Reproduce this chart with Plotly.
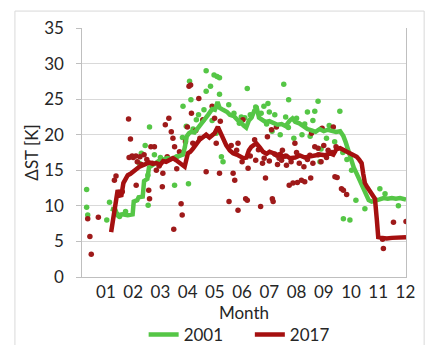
import plotly.graph_objects as go

# ---- data (x in month units, y = ΔST [K]) ----
month_ticks = [1, 2, 3, 4, 5, 6, 7, 8, 9, 10, 11, 12]
month_labels = ["01", "02", "03", "04", "05", "06", "07", "08", "09", "10", "11", "12"]

g_line_x = [1.18, 1.35, 1.42, 1.60, 1.80, 1.98, 2.02, 2.15, 2.20, 2.35, 2.40, 2.52, 2.58, 2.72, 2.85,
            2.97, 3.10, 3.25, 3.40, 3.58, 3.70, 3.83, 3.90, 3.97, 4.05, 4.13, 4.25, 4.40, 4.50, 4.65,
            4.75, 4.90, 5.00, 5.10, 5.17, 5.30, 5.45, 5.55, 5.70, 5.85, 5.95, 6.05, 6.15, 6.25, 6.35,
            6.45, 6.55, 6.62, 6.70, 6.85, 7.00, 7.15, 7.30, 7.45, 7.60, 7.75, 7.85, 7.95, 8.10, 8.25,
            8.40, 8.55, 8.70, 8.85, 9.00, 9.15, 9.30, 9.45, 9.60, 9.72, 9.80, 9.90, 10.00, 10.10, 10.20,
            10.33, 10.45, 10.57, 10.65, 10.76, 10.90, 11.05, 11.20, 11.35, 11.50, 11.65, 11.80, 12.02]
g_line_y = [9.6, 9.4, 8.7, 8.8, 8.7, 8.8, 10.6, 10.8, 11.2, 11.3, 13.5, 13.8, 15.4, 15.8, 16.2,
            16.4, 16.5, 16.7, 16.6, 16.9, 17.0, 17.2, 18.3, 19.8, 20.2, 20.4, 20.3, 21.0, 21.7, 22.3,
            22.8, 23.6, 23.5, 24.6, 23.8, 23.5, 23.2, 22.8, 22.6, 22.0, 21.8, 21.3, 21.0, 22.0, 22.4,
            23.4, 23.6, 22.4, 22.2, 21.8, 21.9, 21.6, 21.4, 21.5, 21.2, 22.0, 22.3, 21.8, 21.6, 21.2,
            20.8, 20.6, 20.4, 20.8, 20.5, 20.7, 20.6, 20.4, 20.5, 19.8, 19.0, 17.6, 16.2, 15.4, 14.6,
            13.5, 12.6, 11.4, 10.8, 10.6, 10.7, 10.9, 11.1, 11.0, 11.1, 11.0, 11.1, 10.9]

r_line_x = [1.19, 1.31, 1.43, 1.50, 1.56, 1.64, 1.72, 1.80, 1.90, 1.98, 2.10, 2.23, 2.35, 2.48, 2.60,
            2.72, 2.84, 3.00, 3.10, 3.21, 3.35, 3.46, 3.58, 3.70, 3.80, 3.89, 4.01, 4.10, 4.19, 4.30,
            4.44, 4.55, 4.68, 4.80, 4.99, 5.11, 5.24, 5.32, 5.42, 5.55, 5.67, 5.80, 5.91, 6.05, 6.16,
            6.25, 6.34, 6.45, 6.52, 6.65, 6.77, 6.90, 7.01, 7.15, 7.26, 7.40, 7.51, 7.65, 7.75, 7.95,
            8.12, 8.30, 8.49, 8.70, 8.86, 9.05, 9.22, 9.35, 9.47, 9.60, 9.71, 9.85, 9.96, 10.10, 10.21,
            10.30, 10.39, 10.45, 10.51, 10.60, 10.70, 10.80, 10.88, 10.95, 11.00, 11.15, 11.31, 11.50,
            11.68, 11.85, 12.02]
r_line_y = [6.3, 8.9, 12.2, 11.6, 11.3, 13.2, 13.8, 14.3, 14.5, 14.8, 15.1, 15.5, 15.7, 16.0, 16.1,
            15.9, 16.0, 15.8, 16.3, 16.2, 16.5, 16.7, 16.4, 16.0, 15.7, 15.5, 17.4, 17.6, 18.0, 18.6,
            19.3, 19.6, 20.0, 19.6, 20.2, 21.1, 20.0, 19.0, 18.5, 17.8, 17.4, 17.2, 17.0, 16.7, 16.8,
            17.8, 18.3, 18.6, 18.8, 18.2, 17.6, 17.3, 17.6, 17.4, 17.1, 17.3, 16.9, 17.0, 16.7, 16.8,
            17.1, 16.8, 16.9, 17.0, 17.2, 17.1, 17.4, 17.2, 18.0, 18.1, 17.8, 17.6, 17.4, 17.2, 16.9,
            16.5, 16.0, 14.5, 13.2, 12.6, 12.0, 11.6, 11.0, 8.0, 5.6, 5.5, 5.4, 5.5, 5.5, 5.6, 5.6]

g_pts_x = [0.29, 0.29, 0.33, 1.13, 1.03, 1.31, 1.72, 2.54, 2.60, 2.44, 2.55, 2.78, 3.19, 3.52, 3.81,
           3.83, 4.07, 4.03, 4.12, 4.32, 4.68, 4.84, 4.97, 5.08, 5.17, 4.68, 4.60, 5.17, 5.24, 5.30,
           5.51, 5.97, 6.19, 6.95, 7.53, 7.71, 8.79, 8.67, 8.86, 9.59, 10.02, 9.72, 9.96, 10.18, 10.51,
           11.06, 11.25, 11.74, 2.22, 1.50, 2.30, 3.00, 3.60, 4.20, 4.40, 4.55, 4.90, 5.05, 5.70, 6.30,
           6.50, 6.70, 6.80, 6.90, 7.00, 7.10, 7.20, 7.40, 7.60, 7.70, 7.90, 8.00, 8.20, 8.30, 8.40,
           8.50, 8.60, 8.90, 9.10, 9.20, 9.40, 9.70, 9.85, 3.95, 5.90, 6.10]
g_pts_y = [12.3, 9.8, 8.7, 10.5, 8.0, 9.4, 9.2, 14.3, 21.1, 18.5, 10.1, 17.2, 16.4, 12.9, 19.6,
           24.0, 27.5, 13.1, 24.9, 22.1, 29.0, 26.8, 28.4, 28.2, 28.0, 26.1, 23.5, 25.7, 16.9, 16.2,
           24.2, 22.5, 26.5, 24.4, 27.1, 24.9, 24.7, 23.3, 16.2, 23.3, 15.0, 8.2, 8.0, 10.8, 9.6,
           12.4, 11.7, 10.0, 16.0, 8.5, 17.4, 16.8, 16.9, 20.8, 22.8, 22.0, 22.0, 20.2, 23.0, 22.8,
           23.9, 23.0, 24.0, 21.5, 23.2, 20.5, 22.8, 20.0, 22.5, 21.0, 19.5, 22.3, 20.0, 21.5, 23.2,
           19.8, 22.0, 18.0, 19.5, 21.3, 19.0, 17.5, 16.5, 21.2, 21.6, 22.4]

r_pts_x = [0.33, 0.41, 0.46, 0.72, 1.31, 1.37, 1.83, 1.90, 1.96, 2.11, 2.57, 2.60, 2.78, 3.09, 3.18,
           3.31, 3.40, 3.46, 3.52, 3.07, 3.49, 3.76, 3.80, 4.05, 4.11, 4.14, 3.99, 4.19, 4.41, 4.56,
           4.68, 4.90, 4.99, 5.20, 5.05, 5.17, 5.52, 5.67, 5.73, 5.85, 5.85, 6.03, 6.13, 6.19, 6.22,
           6.46, 6.68, 6.81, 6.86, 6.93, 7.11, 7.14, 7.08, 7.26, 7.36, 7.48, 7.63, 7.73, 7.87, 8.03,
           8.18, 8.30, 8.52, 7.94, 8.27, 8.49, 8.55, 8.67, 8.79, 8.94, 9.16, 9.41, 9.49, 9.45, 9.35,
           9.65, 9.72, 9.84, 11.16, 11.19, 11.56, 12.02,
           1.60, 1.85, 2.00, 2.10, 2.15, 2.25, 2.30, 2.40, 2.50, 2.65, 2.70, 2.85, 2.95, 3.25,
           3.60, 3.70, 3.92, 4.30, 4.45, 5.60, 5.80, 6.00, 6.30, 6.50, 6.60, 6.75, 7.00, 7.20,
           7.30, 7.45, 7.60, 7.80, 8.00, 8.10, 8.40, 8.60, 8.80, 8.90, 9.00, 9.10, 9.30]
r_pts_y = [8.2, 5.7, 3.2, 8.4, 13.6, 14.2, 22.2, 19.4, 17.0, 12.9, 12.2, 11.0, 18.3, 14.6, 21.4,
           22.3, 20.4, 19.5, 18.3, 12.7, 6.7, 10.3, 8.7, 26.8, 27.0, 23.0, 21.1, 18.8, 25.1, 22.1,
           14.8, 24.0, 22.3, 21.9, 18.8, 14.6, 10.6, 14.6, 13.6, 9.4, 18.8, 22.1, 11.0, 10.8, 15.3,
           19.3, 9.9, 16.7, 13.9, 19.7, 11.0, 10.6, 20.7, 21.1, 16.7, 17.8, 15.7, 12.9, 13.2, 13.3,
           13.6, 13.4, 13.9, 18.8, 15.5, 17.1, 20.2, 18.3, 18.1, 20.9, 17.8, 14.1, 14.0, 18.3, 21.1,
           12.4, 12.2, 11.6, 5.3, 4.0, 7.7, 7.8,
           12.0, 16.8, 16.8, 17.0, 16.2, 16.9, 15.8, 17.2, 16.5, 18.3, 16.0, 15.0, 15.6, 16.9,
           15.2, 17.6, 19.0, 20.6, 19.5, 18.5, 17.8, 16.2, 17.0, 16.4, 17.9, 16.0, 16.3, 17.3,
           15.8, 16.4, 17.0, 16.2, 17.5, 16.0, 16.5, 16.0, 17.2, 16.2, 18.5, 16.8, 17.5]

series_names = ["2001", "2017"]

GREEN = "#55c646"
RED = "#a51010"
RED_DOT = "#9e1a1a"
FONT = "Lato"
TXT = "#262626"
NB = "\u00a0" * 5

fig = go.Figure()
fig.add_trace(go.Scatter(x=g_pts_x, y=g_pts_y, mode="markers", showlegend=False,
                         marker=dict(color=GREEN, size=5.5), hoverinfo="skip"))
fig.add_trace(go.Scatter(x=r_pts_x, y=r_pts_y, mode="markers", showlegend=False,
                         marker=dict(color=RED_DOT, size=5.5), hoverinfo="skip"))
fig.add_trace(go.Scatter(x=g_line_x, y=g_line_y, mode="lines", name=series_names[0] + NB,
                         line=dict(color=GREEN, width=4.5)))
fig.add_trace(go.Scatter(x=r_line_x, y=r_line_y, mode="lines", name=series_names[1],
                         line=dict(color=RED, width=4.5)))

fig.update_layout(
    width=425, height=345,
    margin=dict(l=82, r=19, t=28, b=68, autoexpand=False),
    paper_bgcolor="white", plot_bgcolor="white",
    font=dict(family=FONT, size=17, color=TXT),
    xaxis=dict(range=[0.12, 12.02], tickmode="array", tickvals=month_ticks, ticktext=month_labels,
               showgrid=False, zeroline=False, showline=True, linecolor="#bfbfbf", linewidth=1,
               ticks="", automargin=False, tickfont=dict(size=17, color=TXT),
               title=dict(text="Month", standoff=1, font=dict(size=17, color=TXT))),
    yaxis=dict(range=[0, 35], dtick=5, showgrid=True, gridcolor="#d9d9d9", gridwidth=1,
               zeroline=False, showline=True, mirror=True, linecolor="#bfbfbf", linewidth=1,
               ticks="outside", ticklen=5, tickcolor="#bfbfbf", automargin=False,
               ticksuffix="\u00a0\u00a0", tickfont=dict(size=17, color=TXT)),
    legend=dict(orientation="h", x=0.485, xanchor="center", y=-0.16, yanchor="top",
                font=dict(size=17, color=TXT), bgcolor="rgba(0,0,0,0)",
                itemwidth=30, tracegroupgap=0),
    annotations=[dict(text="ΔST [K]", xref="paper", yref="paper", x=-0.157, y=0.5,
                      textangle=-90, showarrow=False, font=dict(size=17, color=TXT),
                      xanchor="center", yanchor="middle")],
    shapes=[dict(type="rect", xref="paper", yref="paper", x0=-0.207, x1=1.056, y0=-0.5, y1=1.068,
                 line=dict(color="#d9d9d9", width=1), fillcolor="rgba(0,0,0,0)", layer="below")],
)

fig.write_html("out.html", config={"displayModeBar": False},
               post_script="document.body.style.margin='0px';document.body.style.overflow='hidden';")
